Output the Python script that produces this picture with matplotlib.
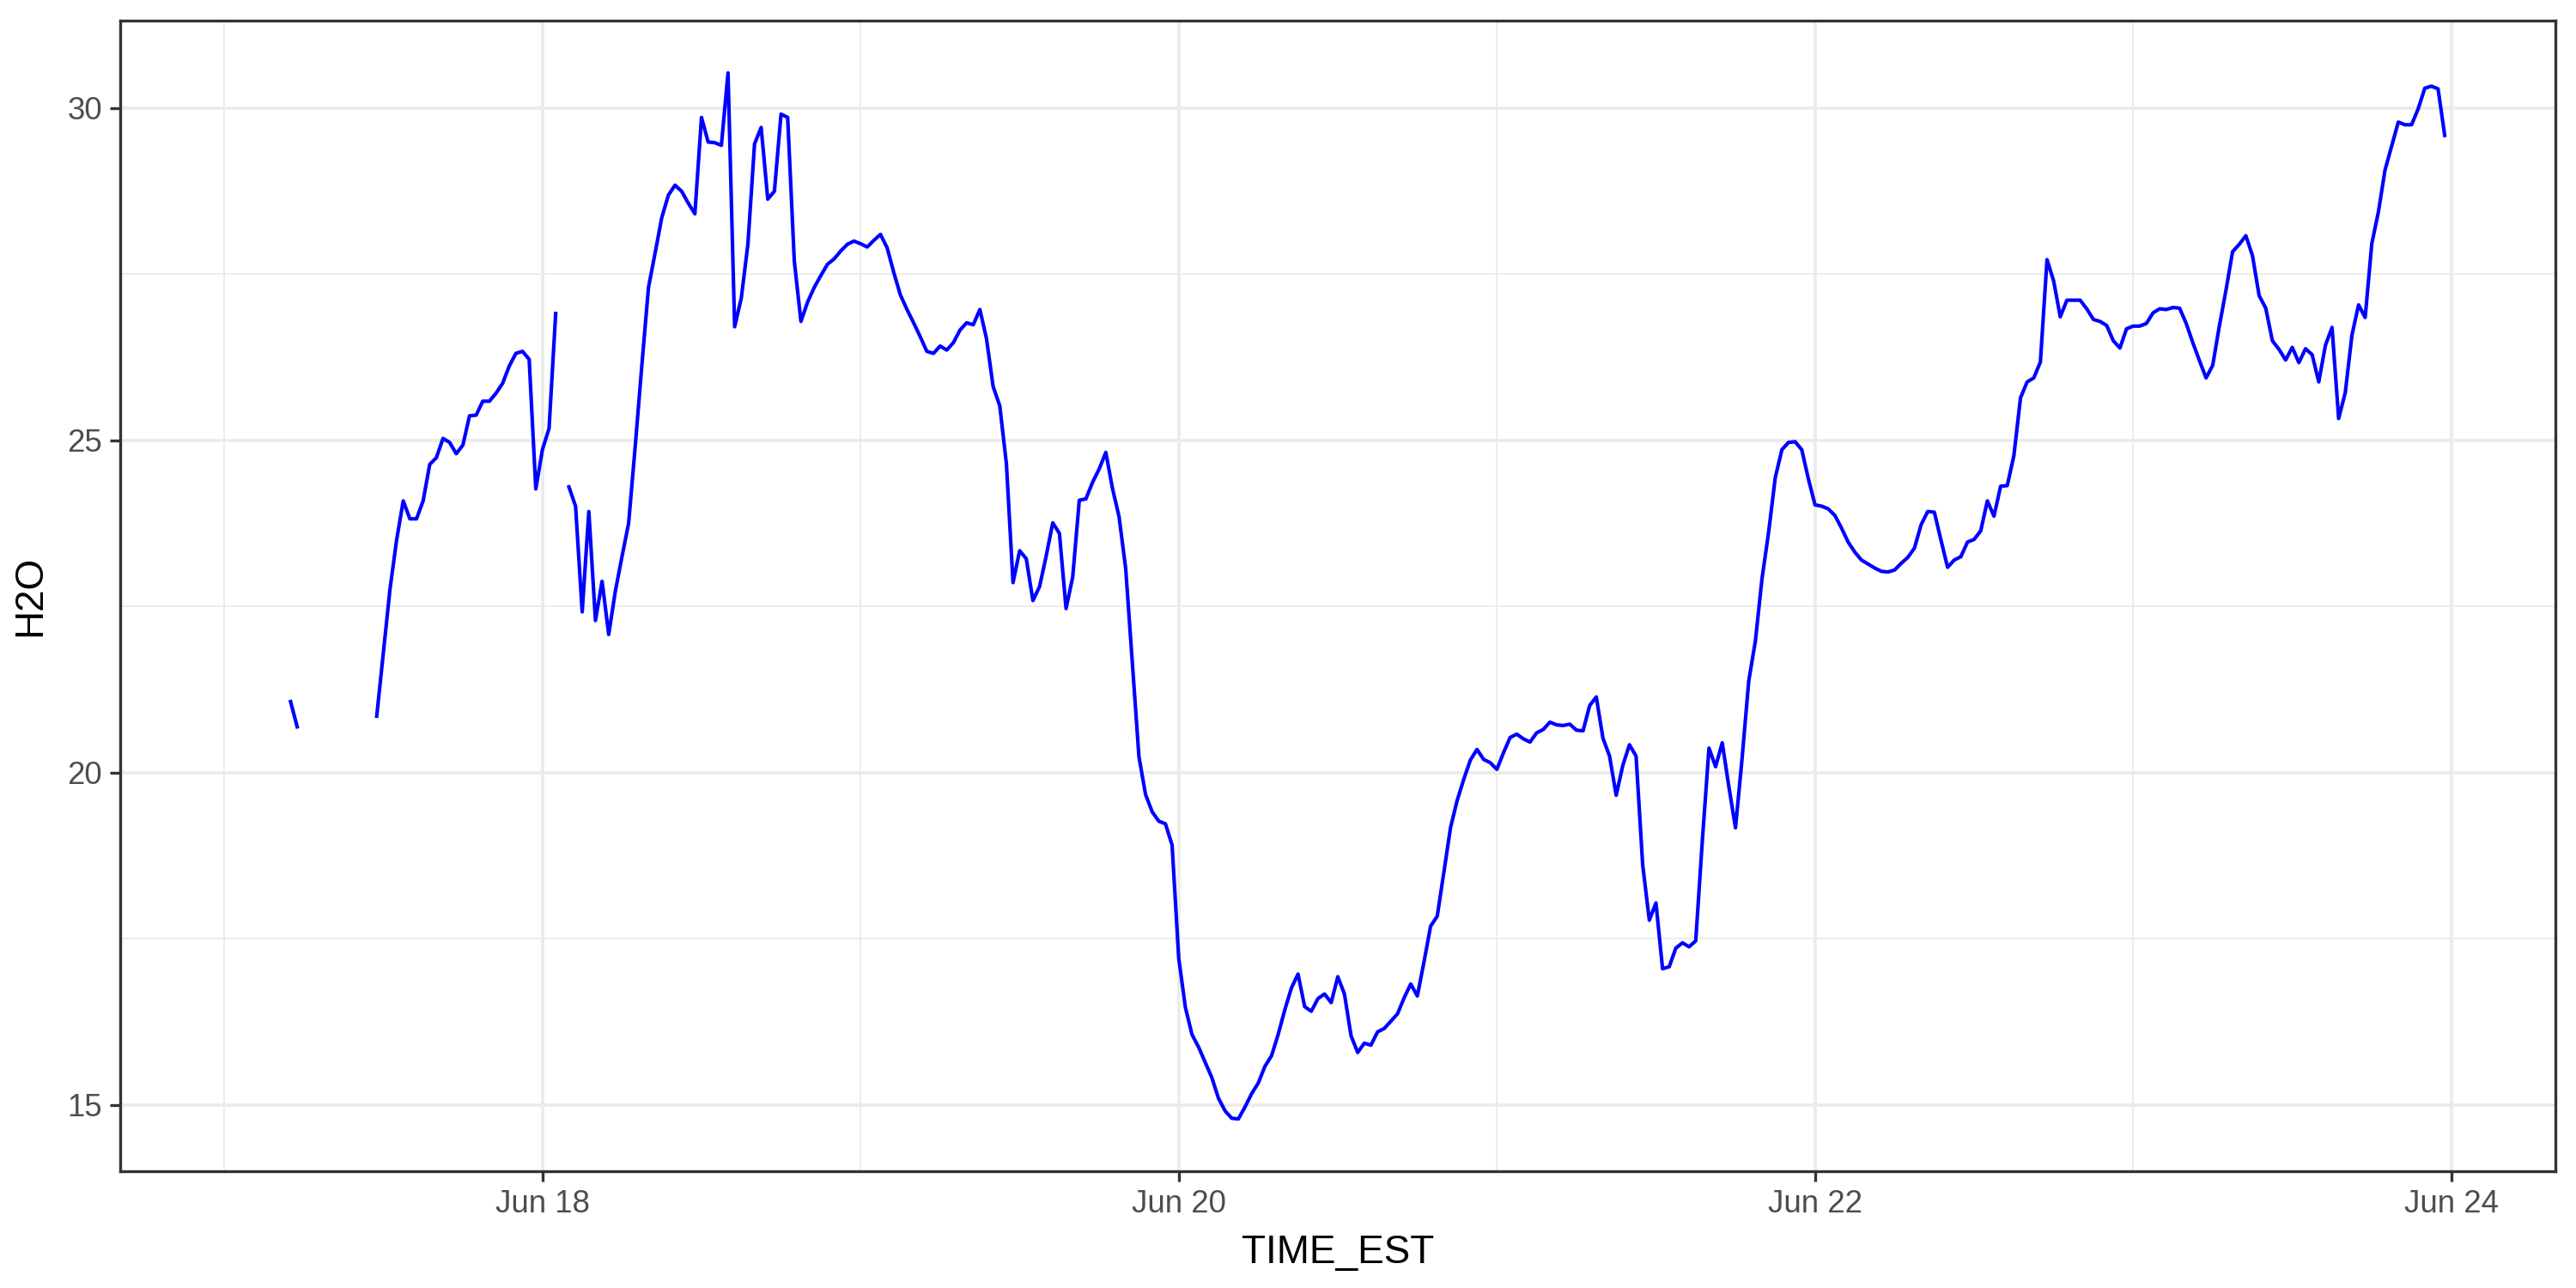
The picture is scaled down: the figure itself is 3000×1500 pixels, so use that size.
import numpy as np
import pandas as pd
import matplotlib
matplotlib.use('Agg')
import matplotlib.pyplot as plt
import matplotlib.dates as mdates
from matplotlib.ticker import MultipleLocator

nan = np.nan

# half-hourly readings, first one at Jun 17 00:30
start_time = '2023-06-17 00:30'
step = '30min'

h2o_jun17 = [nan, nan, nan, nan, nan, nan, nan, nan, nan, 21.07, 20.69,
             nan, nan, nan, nan, nan, nan, nan, nan, nan, nan, nan,
             20.85, 21.80, 22.76, 23.50, 24.09, 23.82, 23.82, 24.09, 24.64, 24.74,
             25.03, 24.97, 24.80, 24.93, 25.37, 25.38, 25.59, 25.59, 25.71, 25.86,
             26.12, 26.31, 26.34, 26.22, 24.27]
h2o_jun18 = [24.86, 25.18, 26.91, nan, 24.30, 24.01, 22.42, 23.93, 22.29, 22.88,
             22.08, 22.73, 23.25, 23.75, 24.91, 26.13, 27.30, 27.82, 28.35, 28.69,
             28.84, 28.75, 28.57, 28.41, 29.86, 29.49, 29.48, 29.44, 30.53, 26.71,
             27.14, 27.95, 29.46, 29.71, 28.63, 28.75, 29.91, 29.86, 27.70, 26.79,
             27.08, 27.30, 27.48, 27.65, 27.73, 27.85, 27.95, 28.00]
h2o_jun19 = [27.96, 27.91, 28.01, 28.10, 27.90, 27.53, 27.19, 26.97, 26.77, 26.56,
             26.34, 26.31, 26.42, 26.36, 26.47, 26.66, 26.77, 26.74, 26.97, 26.53,
             25.81, 25.52, 24.65, 22.86, 23.34, 23.22, 22.59, 22.80, 23.26, 23.76,
             23.60, 22.47, 22.94, 24.10, 24.12, 24.37, 24.57, 24.82, 24.28, 23.85,
             23.07, 21.65, 20.24, 19.67, 19.41, 19.27, 19.23, 18.91]
h2o_jun20 = [17.21, 16.47, 16.06, 15.87, 15.64, 15.41, 15.10, 14.91, 14.80, 14.79,
             14.97, 15.17, 15.33, 15.58, 15.74, 16.06, 16.43, 16.76, 16.97, 16.48,
             16.41, 16.60, 16.67, 16.54, 16.93, 16.67, 16.04, 15.79, 15.93, 15.90,
             16.10, 16.15, 16.26, 16.37, 16.61, 16.82, 16.64, 17.15, 17.69, 17.84,
             18.50, 19.17, 19.58, 19.90, 20.19, 20.35, 20.20, 20.15]
h2o_jun21 = [20.05, 20.30, 20.53, 20.58, 20.51, 20.46, 20.60, 20.65, 20.76, 20.72,
             20.71, 20.73, 20.64, 20.63, 21.01, 21.14, 20.52, 20.25, 19.66, 20.11,
             20.42, 20.25, 18.61, 17.78, 18.04, 17.05, 17.08, 17.36, 17.44, 17.38,
             17.47, 18.98, 20.37, 20.09, 20.45, 19.79, 19.17, 20.22, 21.38, 21.98,
             22.92, 23.62, 24.44, 24.86, 24.97, 24.98, 24.86, 24.42]
h2o_jun22 = [24.03, 24.01, 23.97, 23.87, 23.68, 23.47, 23.32, 23.20, 23.14, 23.08,
             23.03, 23.02, 23.05, 23.15, 23.24, 23.38, 23.73, 23.93, 23.92, 23.50,
             23.09, 23.20, 23.25, 23.47, 23.51, 23.64, 24.09, 23.86, 24.31, 24.32,
             24.77, 25.64, 25.88, 25.94, 26.18, 27.72, 27.40, 26.86, 27.11, 27.11,
             27.11, 26.98, 26.82, 26.79, 26.73, 26.50, 26.39, 26.68]
h2o_jun23 = [26.72, 26.72, 26.76, 26.92, 26.98, 26.97, 27.00, 26.99, 26.76, 26.47,
             26.20, 25.94, 26.13, 26.72, 27.26, 27.84, 27.95, 28.08, 27.78, 27.18,
             26.99, 26.50, 26.37, 26.21, 26.40, 26.17, 26.38, 26.29, 25.88, 26.43,
             26.70, 25.33, 25.72, 26.58, 27.04, 26.85, 27.96, 28.44, 29.07, 29.43,
             29.79, 29.75, 29.75, 29.99, 30.30, 30.33, 30.29, 29.59]

h2o = np.array(h2o_jun17 + h2o_jun18 + h2o_jun19 + h2o_jun20
               + h2o_jun21 + h2o_jun22 + h2o_jun23)
times = pd.date_range(start_time, periods=len(h2o), freq=step)

plt.rcParams['font.family'] = ['Liberation Sans', 'DejaVu Sans']

fig = plt.figure(figsize=(10, 5), dpi=300)
ax = fig.add_axes([140 / 3000, 1 - 1364 / 1500, (2976 - 140) / 3000, (1364 - 24) / 1500])

ax.plot(times, h2o, color='blue', lw=1.0, solid_joinstyle='round')

# ggplot-like 5% expansion
x_lo, x_hi = mdates.date2num(times[0]), mdates.date2num(times[-1])
x_pad = 0.05 * (x_hi - x_lo)
ax.set_xlim(x_lo - x_pad, x_hi + x_pad)
y_lo, y_hi = np.nanmin(h2o), np.nanmax(h2o)
y_pad = 0.05 * (y_hi - y_lo)
ax.set_ylim(y_lo - y_pad, y_hi + y_pad)

ax.xaxis.set_major_locator(mdates.DayLocator(bymonthday=range(2, 32, 2)))
ax.xaxis.set_minor_locator(mdates.DayLocator(bymonthday=range(1, 32, 2)))
ax.xaxis.set_major_formatter(mdates.DateFormatter('%b %d'))
ax.yaxis.set_major_locator(MultipleLocator(5))
ax.yaxis.set_minor_locator(MultipleLocator(2.5))

ax.set_axisbelow(True)
ax.grid(which='major', color='#EBEBEB', lw=0.9)
ax.grid(which='minor', color='#EBEBEB', lw=0.45)
for sp in ax.spines.values():
    sp.set_color('#333333')
    sp.set_linewidth(0.8)

ax.tick_params(which='major', length=2.9, width=0.8, color='#333333',
               labelcolor='#4D4D4D', labelsize=8.8, pad=2.2)
ax.tick_params(which='minor', length=0)

ax.set_xlabel('TIME_EST', fontsize=11, color='black', labelpad=4)
ax.set_ylabel('H2O', fontsize=11, color='black', labelpad=5)

fig.savefig('out.png', dpi=300, facecolor='white')
